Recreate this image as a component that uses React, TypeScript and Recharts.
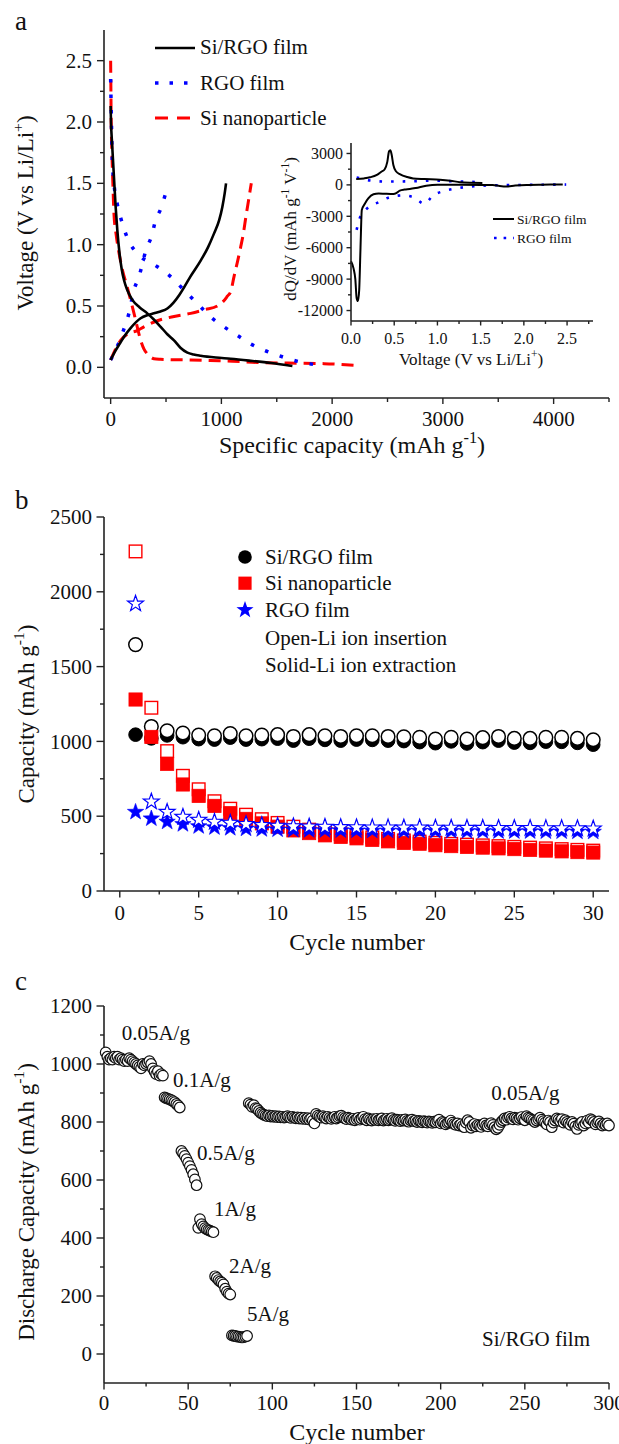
import React from 'react';
import { LineChart, Line, XAxis, YAxis, ScatterChart, Scatter, ReferenceDot } from 'recharts';

const FONT = "'Liberation Serif', 'Times New Roman', serif";
const RED = '#ff0000';
const BLUE = '#0000ff';
const AX = { stroke: '#222', strokeWidth: 1.6 };

// ---------------- Panel a: charge/discharge profiles ----------------
const siRgoDisCap = [0, 3, 8, 15, 30, 45, 60, 80, 100, 121, 150, 196, 260, 331, 390, 452, 512, 572, 630, 693, 750, 813, 950, 1084, 1250, 1450, 1641];
const siRgoDisV = [2.13, 2.0, 1.9, 1.79, 1.55, 1.31, 1.12, 0.93, 0.8, 0.71, 0.63, 0.55, 0.49, 0.44, 0.39, 0.33, 0.27, 0.22, 0.16, 0.12, 0.105, 0.095, 0.08, 0.07, 0.055, 0.035, 0.01];
const siRgoChgCap = [0, 40, 80, 121, 180, 271, 330, 391, 450, 512, 570, 620, 662, 720, 813, 880, 933, 980, 1009, 1030, 1042];
const siRgoChgV = [0.06, 0.13, 0.19, 0.25, 0.32, 0.4, 0.425, 0.44, 0.455, 0.48, 0.53, 0.59, 0.65, 0.74, 0.87, 0.98, 1.09, 1.2, 1.31, 1.42, 1.5];
const rgoDisCap = [0, 3, 8, 15, 30, 60, 100, 140, 181, 230, 286, 350, 422, 542, 662, 783, 903, 1024, 1144, 1265, 1385, 1506, 1641, 1760, 1897];
const rgoDisV = [2.35, 2.2, 1.95, 1.69, 1.5, 1.33, 1.19, 1.08, 1.0, 0.94, 0.89, 0.86, 0.82, 0.74, 0.63, 0.52, 0.41, 0.33, 0.26, 0.19, 0.14, 0.1, 0.06, 0.035, 0.015];
const rgoChgCap = [0, 45, 111, 165, 210, 256, 286, 316, 370, 406, 452, 494];
const rgoChgV = [0.06, 0.14, 0.29, 0.44, 0.63, 0.74, 0.84, 0.95, 1.07, 1.2, 1.29, 1.41];
const siNpDisCap = [0, 2, 5, 10, 20, 30, 50, 76, 110, 151, 180, 211, 240, 271, 300, 331, 360, 391, 450, 550, 723, 900, 1100, 1325, 1600, 1927, 2213];
const siNpDisV = [2.5, 2.3, 2.0, 1.8, 1.5, 1.25, 1.08, 0.93, 0.78, 0.65, 0.55, 0.44, 0.33, 0.22, 0.15, 0.11, 0.085, 0.07, 0.065, 0.062, 0.06, 0.055, 0.05, 0.04, 0.035, 0.03, 0.015];
const siNpChgCap = [0, 40, 90, 150, 241, 300, 422, 550, 723, 850, 964, 1020, 1054, 1085, 1114, 1145, 1174, 1200, 1220, 1245, 1270];
const siNpChgV = [0.06, 0.14, 0.22, 0.27, 0.3, 0.33, 0.38, 0.41, 0.44, 0.47, 0.5, 0.54, 0.58, 0.62, 0.74, 0.86, 0.98, 1.1, 1.22, 1.36, 1.5];

const aXTicks = [0, 500, 1000, 1500, 2000, 2500, 3000, 3500, 4000, 4500];
const aXMajors = [0, 1000, 2000, 3000, 4000];
const aYTicks = [0, 0.25, 0.5, 0.75, 1.0, 1.25, 1.5, 1.75, 2.0, 2.25, 2.5];
const aYMajors = [0, 0.5, 1.0, 1.5, 2.0, 2.5];

// ---------------- Inset: dQ/dV ----------------
const siRgoUpV = [0.06, 0.15, 0.22, 0.3, 0.35, 0.39, 0.42, 0.44, 0.455, 0.47, 0.49, 0.52, 0.57, 0.65, 0.72, 0.85, 1.03, 1.15, 1.26, 1.4, 1.52];
const siRgoUpQ = [550, 620, 720, 950, 1250, 1500, 2200, 3200, 3300, 2900, 1900, 1300, 1000, 750, 620, 560, 500, 400, 260, 200, 180];
const siRgoLoV = [0.0, 0.03, 0.05, 0.065, 0.08, 0.095, 0.11, 0.125, 0.16, 0.2, 0.26, 0.32, 0.4, 0.49, 0.53, 0.565, 0.62, 0.68, 0.75, 0.87, 1.0, 1.2, 1.5, 1.64, 1.72, 1.8, 1.9, 2.03, 2.2, 2.45];
const siRgoLoQ = [-7300, -8000, -9000, -10800, -11100, -10000, -6000, -2400, -1800, -1300, -900, -820, -850, -870, -750, -550, -450, -400, -300, -80, 20, 10, 0, 0, -100, -150, -60, 0, 20, 30];
const rgoUpV = [0.065, 0.1, 0.22, 0.41, 0.68, 0.95, 1.18, 1.51];
const rgoUpQ = [700, 650, 420, 320, 340, 400, 350, 250];
const rgoLoV = [0.065, 0.1, 0.18, 0.32, 0.45, 0.6, 0.72, 0.85, 0.95, 1.07, 1.26, 1.57, 2.03, 2.49];
const rgoLoQ = [-4300, -3200, -2300, -1650, -1170, -1000, -1170, -1800, -1000, -600, -280, -60, 0, 30];

const inXTicks = [0, 0.25, 0.5, 0.75, 1.0, 1.25, 1.5, 1.75, 2.0, 2.25, 2.5, 2.75];
const inXMajors = [0, 0.5, 1.0, 1.5, 2.0, 2.5];
const inYTicks = [-12000, -10500, -9000, -7500, -6000, -4500, -3000, -1500, 0, 1500, 3000];
const inYMajors = [-12000, -9000, -6000, -3000, 0, 3000];

// ---------------- Panel b: cycling ----------------
const cyclesB = [1, 2, 3, 4, 5, 6, 7, 8, 9, 10, 11, 12, 13, 14, 15, 16, 17, 18, 19, 20, 21, 22, 23, 24, 25, 26, 27, 28, 29, 30];
const siRgoInsert = [1647, 1100, 1071, 1056, 1042, 1038, 1053, 1038, 1042, 1045, 1033, 1045, 1038, 1033, 1038, 1038, 1033, 1031, 1027, 1016, 1027, 1016, 1025, 1033, 1020, 1020, 1027, 1027, 1020, 1011];
const siRgoExtract = [1045, 1020, 1040, 1028, 1015, 1012, 1025, 1012, 1015, 1018, 1005, 1018, 1010, 1005, 1012, 1010, 1005, 1002, 995, 988, 1000, 986, 995, 1005, 992, 990, 998, 997, 990, 978];
const siNpInsert = [2270, 1225, 935, 770, 680, 600, 550, 510, 480, 455, 430, 410, 392, 380, 370, 358, 348, 338, 330, 322, 315, 310, 305, 300, 295, 290, 285, 280, 275, 270];
const siNpExtract = [1280, 1030, 850, 712, 636, 569, 520, 482, 452, 430, 405, 387, 372, 362, 352, 342, 332, 322, 316, 306, 300, 295, 290, 285, 280, 275, 270, 265, 260, 257];
const rgoInsert = [1920, 597, 528, 495, 475, 462, 455, 447, 440, 435, 432, 430, 428, 426, 425, 424, 424, 423, 423, 422, 422, 421, 421, 420, 420, 420, 419, 419, 418, 417];
const rgoExtract = [528, 484, 462, 446, 432, 425, 420, 416, 412, 410, 408, 406, 405, 404, 403, 402, 402, 401, 401, 400, 400, 399, 399, 398, 398, 398, 397, 397, 396, 395];

const bXTicks = [0, 2.5, 5, 7.5, 10, 12.5, 15, 17.5, 20, 22.5, 25, 27.5, 30];
const bXMajors = [0, 5, 10, 15, 20, 25, 30];
const bYTicks = [0, 250, 500, 750, 1000, 1250, 1500, 1750, 2000, 2250, 2500];
const bYMajors = [0, 500, 1000, 1500, 2000, 2500];

// ---------------- Panel c: rate performance ----------------
const dischargeC = [
  1040, 1025, 1015, 1020, 1015, 1025, 1020, 1025, 1015, 1020, 1015, 1010, 1015, 1010, 1020, 1015, 1010, 1005, 1000, 995,
  990, 985, 1000, 995, 1000, 1005, 1010, 1000, 985, 975, 965, 975, 960, 965, 960,
  885, 882, 880, 878, 875, 872, 868, 862, 857, 850,
  700, 692, 683, 672, 660, 648, 635, 620, 602, 582,
  435, 465, 448, 440, 434, 430, 427, 425, 422, 420,
  268, 262, 255, 250, 246, 240, 225, 215, 208, 205,
  64, 63, 62, 60, 60, 58, 57, 58, 60, 62,
  865, 860, 852, 858, 848, 845, 838, 832, 828, 825,
  822, 820, 823, 819, 821, 818, 820, 817, 819, 816,
  818, 815, 817, 820, 816, 814, 818, 815, 813, 816,
  812, 815, 811, 814, 810, 813, 808, 812, 805, 795,
  828, 822, 818, 815, 820, 816, 812, 818, 814, 811,
  815, 818, 812, 816, 820, 822, 817, 813, 810, 815,
  812, 808, 811, 806, 810, 814, 808, 812, 818, 810,
  806, 812, 808, 805, 810, 807, 811, 806, 809, 812,
  805, 808, 811, 806, 809, 813, 807, 804, 808, 806,
  803, 807, 805, 809, 804, 801, 806, 808, 803, 805,
  800, 804, 802, 799, 803, 801, 798, 802, 800, 797,
  801, 799, 804, 808, 795, 800, 797, 792, 796, 799,
  805, 798, 793, 790, 795, 788, 792, 786, 782, 798,
  806, 800, 780, 788, 793, 785, 790, 787, 783, 790,
  795, 788, 785, 792, 796, 790, 782, 775, 780, 790,
  800, 806, 812, 808, 815, 818, 812, 809, 815, 812,
  808, 813, 817, 810, 806, 820, 815, 812, 808, 805,
  800, 805, 810, 815, 808, 803, 798, 792, 805, 800,
  782, 798, 805, 812, 808, 803, 810, 798, 806, 800,
  795, 790, 800, 794, 785, 776, 790, 795, 800, 788,
  795, 805, 798, 810, 806, 800, 792, 798, 802, 795,
  788, 793, 790, 795, 788,
];
const cyclesC = dischargeC.map((_, i) => i + 1);
const rateLabels = ['0.05A/g', '0.1A/g', '0.5A/g', '1A/g', '2A/g', '5A/g', '0.05A/g', 'Si/RGO film'];
const rateLabelX = [10.5, 41, 55.2, 65.3, 74.3, 85, 230, 224.6];
const rateLabelY = [1106, 944, 694, 500, 303, 137, 902, 51];

const cXTicks = [0, 25, 50, 75, 100, 125, 150, 175, 200, 225, 250, 275, 300];
const cXMajors = [0, 50, 100, 150, 200, 250, 300];
const cYTicks = [0, 100, 200, 300, 400, 500, 600, 700, 800, 900, 1000, 1100, 1200];
const cYMajors = [0, 200, 400, 600, 800, 1000, 1200];

// ---------------- helpers ----------------
const zip = (xs: number[], ys: number[]) => xs.map((x, i) => ({ x, y: ys[i] }));
const isIn = (arr: number[], v: number) => arr.some((m) => Math.abs(m - v) < 1e-6);

function xTick(majors: number[], fmt: (v: number) => string, fs: number, majLen: number, minLen: number, centerOff: number) {
  return (props: any) => {
    const { x, y, payload } = props;
    const v = payload.value;
    const major = isIn(majors, v);
    return (
      <g>
        <line x1={x} y1={y} x2={x} y2={y + (major ? majLen : minLen)} stroke="#222" strokeWidth={1.4} />
        {major ? (
          <text x={x} y={y + centerOff + fs * 0.34} textAnchor="middle" fontSize={fs} fontFamily={FONT} fill="#111">
            {fmt(v)}
          </text>
        ) : null}
      </g>
    );
  };
}
function yTick(majors: number[], fmt: (v: number) => string, fs: number, majLen: number, minLen: number, gap: number) {
  return (props: any) => {
    const { x, y, payload } = props;
    const v = payload.value;
    const major = isIn(majors, v);
    return (
      <g>
        <line x1={x - (major ? majLen : minLen)} y1={y} x2={x} y2={y} stroke="#222" strokeWidth={1.4} />
        {major ? (
          <text x={x - gap} y={y + fs * 0.34} textAnchor="end" fontSize={fs} fontFamily={FONT} fill="#111">
            {fmt(v)}
          </text>
        ) : null}
      </g>
    );
  };
}

function starPath(cx: number, cy: number, R: number) {
  const r = R * 0.4;
  let d = '';
  for (let i = 0; i < 10; i++) {
    const a = -Math.PI / 2 + (i * Math.PI) / 5;
    const rad = i % 2 === 0 ? R : r;
    d += (i === 0 ? 'M' : 'L') + (cx + rad * Math.cos(a)).toFixed(2) + ',' + (cy + rad * Math.sin(a)).toFixed(2);
  }
  return d + 'Z';
}

const solidCircle = (p: any) => <circle cx={p.cx} cy={p.cy} r={6.8} fill="#000" stroke="#000" strokeWidth={1} />;
const openCircle = (p: any) => <circle cx={p.cx} cy={p.cy} r={6.8} fill="#fff" stroke="#000" strokeWidth={1.5} />;
const solidSquare = (p: any) => <rect x={p.cx - 6.6} y={p.cy - 6.6} width={13.2} height={13.2} fill={RED} stroke={RED} strokeWidth={0.8} />;
const openSquare = (p: any) => <rect x={p.cx - 6.3} y={p.cy - 6.3} width={12.6} height={12.6} fill="#fff" stroke={RED} strokeWidth={1.4} />;
const solidStar = (p: any) => <path d={starPath(p.cx, p.cy, 8.6)} fill={BLUE} stroke={BLUE} strokeWidth={0.6} />;
const openStar = (p: any) => <path d={starPath(p.cx, p.cy, 8.4)} fill="#fff" stroke={BLUE} strokeWidth={1.2} />;
const smallOpen = (p: any) => <circle cx={p.cx} cy={p.cy} r={5.3} fill="#fff" stroke="#111" strokeWidth={1.2} />;

const f1 = (v: number) => v.toFixed(1);
const f0 = (v: number) => String(v);

// ---------------- panels ----------------
function PanelA() {
  return (
    <LineChart width={619} height={440} margin={{ top: 30, right: 10, bottom: 0, left: 0 }}>
      <XAxis xAxisId={0} dataKey="x" type="number" domain={[-60, 4500]} ticks={aXTicks} interval={0} height={42} tickSize={0} tickMargin={0} tickLine={false} axisLine={AX} tick={xTick(aXMajors, f0, 21, 6, 4, 21)} />
      <XAxis xAxisId="top" orientation="top" type="number" domain={[-60, 4500]} height={0} tick={false} tickLine={false} axisLine={AX} />
      <YAxis yAxisId={0} type="number" domain={[-0.25, 2.75]} ticks={aYTicks} interval={0} width={104} tickSize={0} tickMargin={0} tickLine={false} axisLine={AX} tick={yTick(aYMajors, f1, 21, 7, 4, 12)} />
      <YAxis yAxisId="right" orientation="right" type="number" domain={[-0.25, 2.75]} width={0} tick={false} tickLine={false} axisLine={AX} />
      <Line data={zip(siNpDisCap, siNpDisV)} dataKey="y" type="monotone" stroke={RED} strokeWidth={3} strokeDasharray="12 7" dot={false} isAnimationActive={false} />
      <Line data={zip(siNpChgCap, siNpChgV)} dataKey="y" type="monotone" stroke={RED} strokeWidth={3} strokeDasharray="12 7" dot={false} isAnimationActive={false} />
      <Line data={zip(rgoDisCap, rgoDisV)} dataKey="y" type="monotone" stroke={BLUE} strokeWidth={3.5} strokeDasharray="3.5 12" dot={false} isAnimationActive={false} />
      <Line data={zip(rgoChgCap, rgoChgV)} dataKey="y" type="monotone" stroke={BLUE} strokeWidth={3.5} strokeDasharray="3.5 12" dot={false} isAnimationActive={false} />
      <Line data={zip(siRgoDisCap, siRgoDisV)} dataKey="y" type="monotone" stroke="#000" strokeWidth={2.6} dot={false} isAnimationActive={false} />
      <Line data={zip(siRgoChgCap, siRgoChgV)} dataKey="y" type="monotone" stroke="#000" strokeWidth={2.6} dot={false} isAnimationActive={false} />
    </LineChart>
  );
}

function Inset() {
  return (
    <LineChart width={345} height={245} margin={{ top: 13, right: 12, bottom: 0, left: 0 }}>
      <XAxis xAxisId={0} dataKey="x" type="number" domain={[0, 2.8]} ticks={inXTicks} interval={0} height={54} tickSize={0} tickMargin={0} tickLine={false} axisLine={AX} tick={xTick(inXMajors, f1, 16, 4.5, 3, 17.5)} />
      <XAxis xAxisId="top" orientation="top" type="number" domain={[0, 2.8]} height={0} tick={false} tickLine={false} axisLine={AX} />
      <YAxis yAxisId={0} type="number" domain={[-13000, 4000]} ticks={inYTicks} interval={0} width={91} tickSize={0} tickMargin={0} tickLine={false} axisLine={AX} tick={yTick(inYMajors, f0, 16, 4.5, 3, 8)} />
      <YAxis yAxisId="right" orientation="right" type="number" domain={[-13000, 4000]} width={0} tick={false} tickLine={false} axisLine={AX} />
      <Line data={zip(rgoUpV, rgoUpQ)} dataKey="y" type="monotone" stroke={BLUE} strokeWidth={2.6} strokeDasharray="2.6 9" dot={false} isAnimationActive={false} />
      <Line data={zip(rgoLoV, rgoLoQ)} dataKey="y" type="monotone" stroke={BLUE} strokeWidth={2.6} strokeDasharray="2.6 9" dot={false} isAnimationActive={false} />
      <Line data={zip(siRgoUpV, siRgoUpQ)} dataKey="y" type="monotone" stroke="#000" strokeWidth={2} dot={false} isAnimationActive={false} />
      <Line data={zip(siRgoLoV, siRgoLoQ)} dataKey="y" type="monotone" stroke="#000" strokeWidth={2} dot={false} isAnimationActive={false} />
    </LineChart>
  );
}

function PanelB() {
  return (
    <ScatterChart width={619} height={480} margin={{ top: 37, right: 10, bottom: 0, left: 0 }}>
      <XAxis xAxisId={0} dataKey="x" type="number" domain={[-1, 31]} ticks={bXTicks} interval={0} height={69} tickSize={0} tickMargin={0} tickLine={false} axisLine={AX} tick={xTick(bXMajors, f0, 21, 6.5, 3.5, 21.5)} />
      <XAxis xAxisId="top" orientation="top" type="number" domain={[-1, 31]} height={0} tick={false} tickLine={false} axisLine={AX} />
      <YAxis yAxisId={0} dataKey="y" type="number" domain={[0, 2500]} ticks={bYTicks} interval={0} width={104} tickSize={0} tickMargin={0} tickLine={false} axisLine={AX} tick={yTick(bYMajors, f0, 21, 7.5, 4, 12)} />
      <YAxis yAxisId="right" orientation="right" type="number" domain={[0, 2500]} width={0} tick={false} tickLine={false} axisLine={AX} />
      <Scatter data={zip(cyclesB, siRgoExtract)} shape={solidCircle} isAnimationActive={false} />
      <Scatter data={zip(cyclesB, siRgoInsert)} shape={openCircle} isAnimationActive={false} />
      <Scatter data={zip(cyclesB, siNpInsert)} shape={openSquare} isAnimationActive={false} />
      <Scatter data={zip(cyclesB, siNpExtract)} shape={solidSquare} isAnimationActive={false} />
      <Scatter data={zip(cyclesB, rgoExtract)} shape={solidStar} isAnimationActive={false} />
      <Scatter data={zip(cyclesB, rgoInsert)} shape={openStar} isAnimationActive={false} />
    </ScatterChart>
  );
}

function PanelC() {
  return (
    <ScatterChart width={619} height={484} margin={{ top: 46, right: 10, bottom: 0, left: 0 }}>
      <XAxis xAxisId={0} dataKey="x" type="number" domain={[0, 300]} ticks={cXTicks} interval={0} height={61} tickSize={0} tickMargin={0} tickLine={false} axisLine={AX} tick={xTick(cXMajors, f0, 21, 6.5, 3.5, 20)} />
      <XAxis xAxisId="top" orientation="top" type="number" domain={[0, 300]} height={0} tick={false} tickLine={false} axisLine={AX} />
      <YAxis yAxisId={0} dataKey="y" type="number" domain={[-100, 1200]} ticks={cYTicks} interval={0} width={104} tickSize={0} tickMargin={0} tickLine={false} axisLine={AX} tick={yTick(cYMajors, f0, 21, 7.5, 4, 12)} />
      <YAxis yAxisId="right" orientation="right" type="number" domain={[-100, 1200]} width={0} tick={false} tickLine={false} axisLine={AX} />
      <Scatter data={zip(cyclesC, dischargeC)} shape={smallOpen} isAnimationActive={false} />
      {rateLabels.map((t, i) => (
        <ReferenceDot
          key={i}
          x={rateLabelX[i]}
          y={rateLabelY[i]}
          r={0}
          ifOverflow="visible"
          fill="none"
          stroke="none"
          label={(p: any) => {
            const vb = p.viewBox || p;
            return (
              <text x={vb.x} y={vb.y + 21 * 0.34} textAnchor="start" fontSize={21} fontFamily={FONT} fill="#111">
                {t}
              </text>
            );
          }}
        />
      ))}
    </ScatterChart>
  );
}

function Sup({ x, y, fs, pre, sup, post, rotate }: { x: number; y: number; fs: number; pre: string; sup: string; post: string; rotate?: boolean }) {
  const tr = rotate ? `translate(${x},${y}) rotate(-90)` : `translate(${x},${y})`;
  return (
    <text transform={tr} x={0} y={fs * 0.34} textAnchor="middle" fontSize={fs} fontFamily={FONT} fill="#111">
      <tspan>{pre}</tspan>
      <tspan dy={-fs * 0.42} fontSize={fs * 0.68}>{sup}</tspan>
      <tspan dy={fs * 0.42}>{post}</tspan>
    </text>
  );
}

function Overlay() {
  const T = (x: number, y: number, s: string, fs = 21, anchor: 'start' | 'middle' | 'end' = 'start') => (
    <text x={x} y={y + fs * 0.34} fontSize={fs} fontFamily={FONT} textAnchor={anchor} fill="#111">
      {s}
    </text>
  );
  return (
    <svg width={619} height={1444} style={{ position: 'absolute', left: 0, top: 0, pointerEvents: 'none' }}>
      {/* panel letters */}
      <text x={15} y={30} fontSize={27} fontFamily={FONT} fill="#111">a</text>
      <text x={15} y={509} fontSize={27} fontFamily={FONT} fill="#111">b</text>
      <text x={15} y={990} fontSize={27} fontFamily={FONT} fill="#111">c</text>

      {/* panel a legend */}
      <line x1={155} y1={48} x2={195} y2={48} stroke="#000" strokeWidth={2.6} />
      <line x1={155} y1={83} x2={195} y2={83} stroke={BLUE} strokeWidth={3.5} strokeDasharray="3.5 11" />
      <line x1={155} y1={118} x2={195} y2={118} stroke={RED} strokeWidth={3} strokeDasharray="13 9" />
      {T(200, 47, 'Si/RGO film')}
      {T(200, 83, 'RGO film')}
      {T(200, 118, 'Si nanoparticle')}
      {/* panel a titles */}
      <Sup x={25} y={213} fs={23} pre="Voltage (V vs Li/Li" sup="+" post=")" rotate />
      <Sup x={352} y={445} fs={24} pre="Specific capacity (mAh g" sup="-1" post=")" />

      {/* inset titles & legend */}
      <text transform="translate(290,229) rotate(-90)" y={17 * 0.34} textAnchor="middle" fontSize={17} fontFamily={FONT} fill="#111">
        <tspan>dQ/dV (mAh g</tspan>
        <tspan dy={-7} fontSize={11.5}>-1</tspan>
        <tspan dy={7}> V</tspan>
        <tspan dy={-7} fontSize={11.5}>-1</tspan>
        <tspan dy={7}>)</tspan>
      </text>
      <Sup x={471} y={359} fs={17} pre="Voltage (V vs Li/Li" sup="+" post=")" />
      <line x1={493} y1={219} x2={514} y2={219} stroke="#000" strokeWidth={2} />
      <line x1={494} y1={238} x2={514} y2={238} stroke={BLUE} strokeWidth={2.6} strokeDasharray="2.6 7" />
      {T(517, 219, 'Si/RGO film', 13.5)}
      {T(517, 238, 'RGO film', 13.5)}

      {/* panel b legend */}
      <circle cx={245} cy={557} r={6.8} fill="#000" />
      <rect x={238.4} y={576.6} width={13.2} height={13.2} fill={RED} />
      <path d={starPath(245, 610, 9)} fill={BLUE} />
      {T(265, 557, 'Si/RGO film')}
      {T(265, 583, 'Si nanoparticle')}
      {T(265, 610, 'RGO film')}
      {T(265, 638, 'Open-Li ion insertion')}
      {T(265, 665, 'Solid-Li ion extraction')}
      <Sup x={26} y={714} fs={23} pre="Capacity (mAh g" sup="-1" post=")" rotate />
      {T(357, 942, 'Cycle number', 24, 'middle')}

      {/* panel c titles */}
      <Sup x={26} y={1202} fs={23} pre="Discharge Capacity (mAh g" sup="-1" post=")" rotate />
      {T(357, 1432, 'Cycle number', 24, 'middle')}
    </svg>
  );
}

export default function App() {
  return (
    <div style={{ position: 'absolute', left: 0, top: 0, width: 619, height: 1444, background: '#fff', overflow: 'hidden', fontFamily: FONT }}>
      <div style={{ position: 'absolute', left: 0, top: 0 }}>
        <PanelA />
      </div>
      <div style={{ position: 'absolute', left: 260, top: 130 }}>
        <Inset />
      </div>
      <div style={{ position: 'absolute', left: 0, top: 480 }}>
        <PanelB />
      </div>
      <div style={{ position: 'absolute', left: 0, top: 960 }}>
        <PanelC />
      </div>
      <Overlay />
    </div>
  );
}
